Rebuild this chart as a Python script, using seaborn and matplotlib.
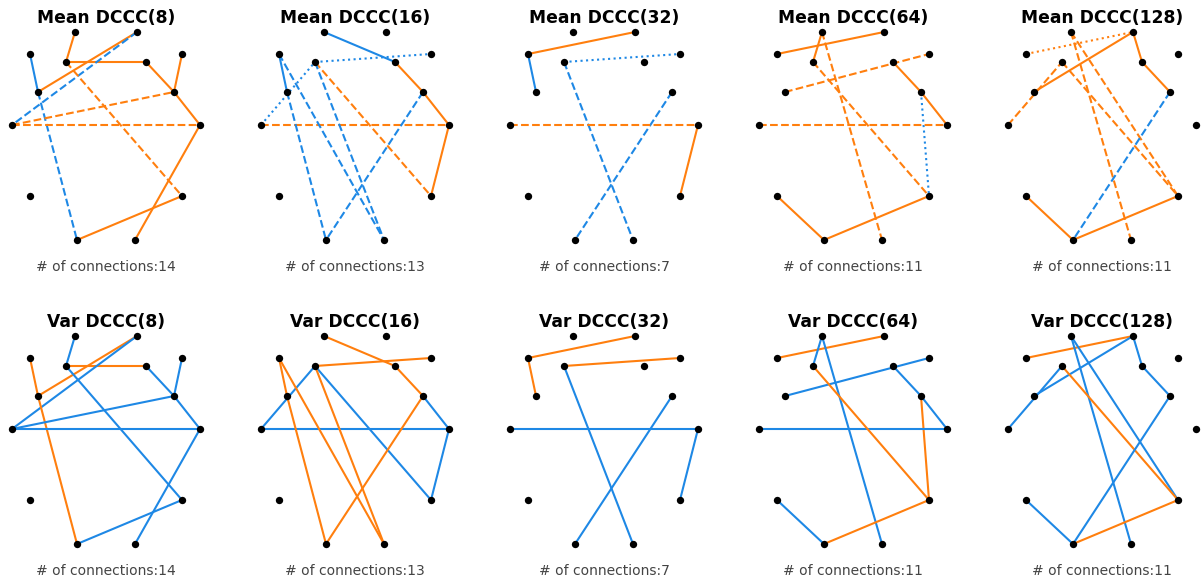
import numpy as np
import pandas as pd
import matplotlib
matplotlib.use("Agg")
import matplotlib.pyplot as plt
import seaborn as sns

sns.set_theme(style="white")
plt.rcParams["font.family"] = ["DejaVu Sans"]

# Frequency scales of the DCCC analysis
scales = [8, 16, 32, 64, 128]

# 14-channel montage (Emotiv-style), planar coordinates
channels = ["AF3", "AF4", "F7", "F8", "F3", "F4", "FC5", "FC6",
            "T7", "T8", "P7", "P8", "O1", "O2"]
chan_x = [-31, 31, -76, 76, -40, 40, -68, 68, -94, 94, -76, 76, -29, 29]
chan_y = [0, 0, -22, -22, -30, -30, -60, -60, -93, -93, -164, -164, -208, -208]

# Edges per scale: (channel a, channel b, sign of mean DCCC, significance tier, sign of var DCCC)
edges_8 = [
    ("AF3", "F3", "+", 1, "-"), ("F3", "F4", "+", 1, "+"), ("F4", "FC6", "+", 1, "-"),
    ("F8", "FC6", "+", 1, "-"), ("FC6", "T8", "+", 1, "-"), ("FC5", "AF4", "+", 1, "+"),
    ("F7", "FC5", "-", 1, "+"), ("AF4", "T7", "-", 2, "-"), ("FC5", "O1", "-", 2, "+"),
    ("T7", "FC6", "+", 2, "-"), ("T7", "T8", "+", 2, "-"), ("F3", "P8", "+", 2, "-"),
    ("O1", "P8", "+", 1, "-"), ("O2", "T8", "+", 1, "-"),
]
edges_16 = [
    ("AF3", "F4", "-", 1, "+"), ("F3", "F8", "-", 3, "+"), ("T7", "F3", "-", 3, "-"),
    ("F7", "FC5", "-", 1, "+"), ("F4", "FC6", "+", 1, "+"), ("FC6", "T8", "+", 1, "-"),
    ("T8", "P8", "+", 1, "-"), ("T7", "T8", "+", 2, "-"), ("F3", "P8", "+", 2, "-"),
    ("FC6", "O1", "-", 2, "+"), ("FC5", "O1", "-", 2, "+"), ("F7", "O2", "-", 2, "+"),
    ("F3", "O2", "-", 2, "+"),
]
edges_32 = [
    ("F7", "AF4", "+", 1, "+"), ("F7", "FC5", "-", 1, "+"), ("F3", "F8", "-", 3, "+"),
    ("F3", "O2", "-", 2, "-"), ("FC6", "O1", "-", 2, "-"), ("T7", "T8", "+", 2, "-"),
    ("T8", "P8", "+", 1, "-"),
]
edges_64 = [
    ("F7", "AF4", "+", 1, "+"), ("AF3", "F3", "+", 1, "-"), ("FC5", "F8", "+", 2, "-"),
    ("F4", "FC6", "+", 1, "-"), ("FC6", "T8", "+", 1, "-"), ("FC6", "P8", "-", 3, "+"),
    ("T7", "T8", "+", 2, "-"), ("AF3", "O2", "+", 2, "-"), ("F3", "P8", "+", 2, "+"),
    ("P7", "O1", "+", 1, "-"), ("O1", "P8", "+", 1, "+"),
]
edges_128 = [
    ("F7", "AF4", "+", 3, "+"), ("AF4", "F4", "+", 1, "-"), ("F4", "FC6", "+", 1, "-"),
    ("FC5", "AF4", "+", 1, "-"), ("T7", "F3", "+", 2, "-"), ("AF3", "O2", "+", 2, "-"),
    ("AF3", "P8", "+", 2, "-"), ("F3", "P8", "+", 2, "+"), ("P7", "O1", "+", 1, "-"),
    ("O1", "P8", "+", 1, "+"), ("FC6", "O1", "-", 2, "-"),
]
edge_sets = [edges_8, edges_16, edges_32, edges_64, edges_128]

nodes = pd.DataFrame({"channel": channels, "x": chan_x, "y": chan_y})
pos = {c: (x, y) for c, x, y in zip(channels, chan_x, chan_y)}

sign_color = {"+": "#ff7f0e", "-": "#1e88e5"}
tier_style = {1: "-", 2: (0, (3.7, 1.6)), 3: (0, (1, 1.65))}

W, H = 1204, 579
fig = plt.figure(figsize=(W / 100, H / 100), dpi=100)

col_step, row_step = 249, 304
cx0 = 106
half_w, panel_h = 124, 290
top_gap = 32  # pixels from panel top to the AF3/AF4 row

for r, stat in enumerate(["Mean", "Var"]):
    for c, (scale, edges) in enumerate(zip(scales, edge_sets)):
        cx = cx0 + c * col_step
        top = r * row_step
        ax = fig.add_axes([(cx - half_w) / W, 1 - (top + panel_h) / H,
                           2 * half_w / W, panel_h / H])
        ax.set_xlim(-half_w, half_w)
        ax.set_ylim(top_gap - panel_h, top_gap)
        ax.axis("off")

        for a, b, msign, tier, vsign in edges:
            (x1, y1), (x2, y2) = pos[a], pos[b]
            if stat == "Mean":
                color, ls = sign_color[msign], tier_style[tier]
            else:
                color, ls = sign_color[vsign], "-"
            ax.plot([x1, x2], [y1, y2], color=color, linestyle=ls,
                    linewidth=1.5, zorder=1, solid_capstyle="butt")

        sns.scatterplot(data=nodes, x="x", y="y", ax=ax, color="black",
                        s=28, linewidth=0, zorder=3, legend=False)
        ax.set_xlabel("")
        ax.set_ylabel("")

        ax.text(0, top_gap - 18, f"{stat} DCCC({scale})", ha="center",
                va="center", fontsize=12.3, fontweight="bold", color="black")
        ax.text(0, top_gap - 267, f"# of connections:{len(edges)}",
                ha="center", va="center", fontsize=10, color="#444444")

fig.savefig("out.png", dpi=100)
